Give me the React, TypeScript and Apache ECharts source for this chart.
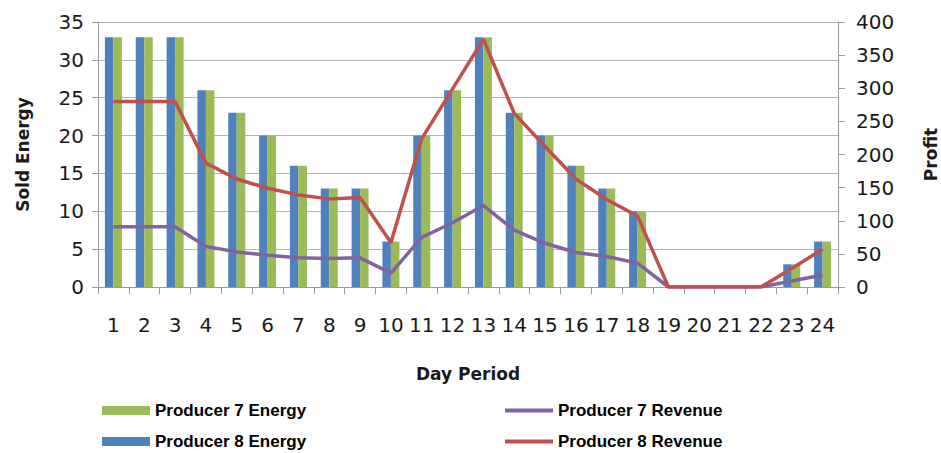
import React, { useEffect, useRef } from "react";
import * as echarts from "echarts";

const periods = ["1","2","3","4","5","6","7","8","9","10","11","12","13","14","15","16","17","18","19","20","21","22","23","24"];
const producer8Energy = [33,33,33,26,23,20,16,13,13,6,20,26,33,23,20,16,13,10,0,0,0,0,3,6];
const producer7Energy = [33,33,33,26,23,20,16,13,13,6,20,26,33,23,20,16,13,10,0,0,0,0,3,6];
const producer7Revenue = [91,91,91,61,53,48,44,43,44,21,75,97,123,86,66,52,46,36,0,0,0,0,9,18];
const producer8Revenue = [280,280,280,187,163,149,139,133,135,67,224,299,374,262,212,163,132,107,0,0,0,0,28,57];

const FONT = "DejaVu Sans";
const TXT = "#1a1a1a";
const AXIS = "#9a9a9a";

export default function App() {
  const ref = useRef<HTMLDivElement>(null);
  useEffect(() => {
    const chart = echarts.init(ref.current!, null, { renderer: "svg" });
    const legendText = { fontFamily: "Liberation Sans", fontWeight: "bold", fontSize: 17, color: "#000" };
    chart.setOption({
      animation: false,
      backgroundColor: "#ffffff",
      grid: { left: 98, right: 103, top: 22, bottom: 166, outerBoundsMode: "none", containLabel: false },
      legend: [
        {
          data: ["Producer 7 Energy", "Producer 8 Energy"],
          orient: "vertical",
          left: 102,
          top: 402,
          padding: 0,
          itemWidth: 48,
          itemHeight: 9,
          itemGap: 14,
          icon: "rect",
          selectedMode: false,
          textStyle: legendText,
        },
        {
          data: ["Producer 7 Revenue", "Producer 8 Revenue"],
          orient: "vertical",
          left: 505,
          top: 402,
          padding: 0,
          itemWidth: 48,
          itemHeight: 4,
          itemGap: 14,
          icon: "rect",
          selectedMode: false,
          textStyle: legendText,
        },
      ],
      xAxis: {
        type: "category",
        data: periods,
        boundaryGap: true,
        name: "Day Period",
        nameLocation: "middle",
        nameGap: 78,
        nameTextStyle: { fontFamily: FONT, fontWeight: "bold", fontSize: 17, color: TXT },
        axisLine: { lineStyle: { color: AXIS, width: 1 } },
        axisTick: { show: true, length: 7, lineStyle: { color: AXIS } },
        axisLabel: { interval: 0, margin: 28, fontFamily: FONT, fontSize: 20, color: TXT },
      },
      yAxis: [
        {
          type: "value",
          min: 0,
          max: 35,
          interval: 5,
          name: "Sold Energy",
          nameLocation: "middle",
          nameRotate: 90,
          nameGap: 67,
          nameTextStyle: { fontFamily: FONT, fontWeight: "bold", fontSize: 17, color: TXT },
          axisLine: { show: true, lineStyle: { color: AXIS } },
          axisTick: { show: true, length: 6, lineStyle: { color: AXIS } },
          axisLabel: { margin: 14, fontFamily: FONT, fontSize: 20, color: TXT },
          splitLine: { show: true, lineStyle: { color: "#b5b5b5", width: 1 } },
        },
        {
          type: "value",
          min: 0,
          max: 400,
          interval: 50,
          position: "right",
          name: "Profit",
          nameLocation: "middle",
          nameRotate: 90,
          nameGap: 84,
          nameTextStyle: { fontFamily: FONT, fontWeight: "bold", fontSize: 17, color: TXT },
          axisLine: { show: true, lineStyle: { color: AXIS } },
          axisTick: { show: true, length: 7, lineStyle: { color: AXIS } },
          axisLabel: { margin: 18, fontFamily: FONT, fontSize: 20, color: TXT },
          splitLine: { show: false },
        },
      ],
      series: [
        {
          name: "Producer 8 Energy",
          type: "bar",
          data: producer8Energy,
          barWidth: 8.5,
          barGap: "0%",
          itemStyle: { color: "#4f81bd" },
        },
        {
          name: "Producer 7 Energy",
          type: "bar",
          data: producer7Energy,
          barWidth: 8.5,
          barGap: "0%",
          itemStyle: { color: "#9bbb59" },
        },
        {
          name: "Producer 7 Revenue",
          type: "line",
          yAxisIndex: 1,
          data: producer7Revenue,
          showSymbol: false,
          symbol: "none",
          itemStyle: { color: "#8064a2" },
          lineStyle: { color: "#8064a2", width: 3.5 },
        },
        {
          name: "Producer 8 Revenue",
          type: "line",
          yAxisIndex: 1,
          data: producer8Revenue,
          showSymbol: false,
          symbol: "none",
          itemStyle: { color: "#c0504d" },
          lineStyle: { color: "#c0504d", width: 3.5 },
        },
      ],
    });
    return () => chart.dispose();
  }, []);
  return (
    <div
      ref={ref}
      style={{ position: "absolute", left: 0, top: 0, width: 941, height: 453 }}
    />
  );
}
